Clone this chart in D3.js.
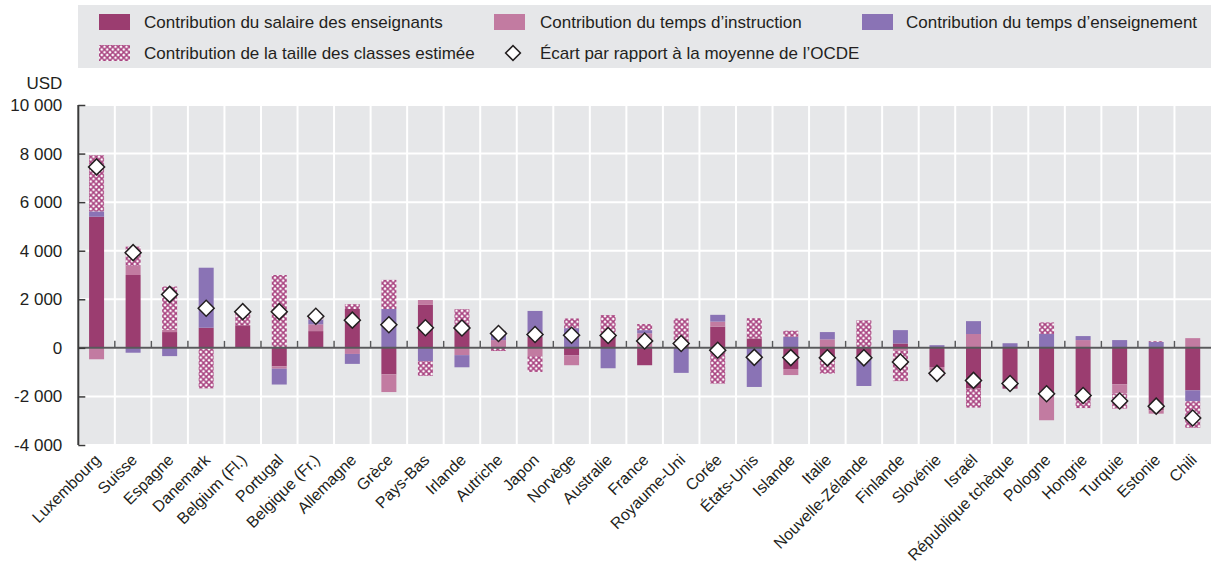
<!DOCTYPE html>
<html>
<head>
<meta charset="utf-8">
<script src="https://cdn.jsdelivr.net/npm/d3@7/dist/d3.min.js"></script>
<style>
  html, body { margin: 0; padding: 0; background: #fff; }
  svg { display: block; }
  text { font-family: "Liberation Sans", Arial, sans-serif; fill: #231f20; }
</style>
</head>
<body>
<svg id="chart" width="1211" height="570"></svg>
<script>
// ---------------- DATA ----------------
const countries = ["Luxembourg","Suisse","Espagne","Danemark","Belgium (Fl.)","Portugal","Belgique (Fr.)","Allemagne","Grèce","Pays-Bas","Irlande","Autriche","Japon","Norvège","Australie","France","Royaume-Uni","Corée","États-Unis","Islande","Italie","Nouvelle-Zélande","Finlande","Slovénie","Israël","République tchèque","Pologne","Hongrie","Turquie","Estonie","Chili"];
const salaire      = [5400, 3000, 650, 830, 930, -760, 690, 1600, -1090, 1770, 940, 0, 460, -300, 525, -715, 0, 870, 390, -870, -510, -370, 180, -790, -1680, -1680, -1950, -2160, -1500, -2570, -1750];
const instruction  = [-470, 380, 95, -40, 0, -100, 280, -250, -730, 200, -300, 320, -340, -415, 0, 600, 0, 210, 0, -250, 350, 0, -120, -130, 570, 0, -1030, 320, -380, -140, 400];
const enseignement = [220, -200, -340, 2470, 0, -650, 200, -410, 1600, -550, -500, 380, 1060, 810, -840, 130, -1030, 280, -1610, 455, 300, -1200, 550, 110, 530, 190, 570, 165, 320, 250, -450];
const taille       = [2310, 790, 1780, -1630, 550, 3000, 120, 200, 1200, -600, 650, -130, -650, 400, 825, 250, 1210, -1470, 830, 250, -550, 1130, -1250, -240, -780, 0, 480, -320, -620, 30, -1090];
const ecart        = [7450, 3920, 2200, 1630, 1490, 1490, 1300, 1140, 950, 830, 820, 590, 550, 520, 510, 280, 180, -100, -390, -400, -410, -410, -580, -1050, -1340, -1470, -1890, -1960, -2190, -2400, -2890];
const yTicks = [-4000, -2000, 0, 2000, 4000, 6000, 8000, 10000];
const seriesKeys = ["salaire", "instruction", "enseignement", "taille"];
const seriesLabels = {
  salaire: "Contribution du salaire des enseignants",
  instruction: "Contribution du temps d’instruction",
  enseignement: "Contribution du temps d’enseignement",
  taille: "Contribution de la taille des classes estimée",
  ecart: "Écart par rapport à la moyenne de l’OCDE"
};
const yUnit = "USD";

(function () {
// ---------------- STYLE ----------------
const colors = { salaire: "#9b3d70", instruction: "#c27ba1", enseignement: "#8a73b5" };
const hatchColor = "#a8427f";
const plotBg = "#e6e7e9";
const FS = 17;
const FSX = 16;

const svg = d3.select("#chart");
const pLeft = 78.3, pRight = 1211, pTop = 105, pBottom = 445;

const rows = countries.map((c, i) => ({
  country: c, salaire: salaire[i], instruction: instruction[i],
  enseignement: enseignement[i], taille: taille[i], ecart: ecart[i]
}));

const x = d3.scaleBand().domain(countries).range([pLeft, pRight]).paddingInner(0).paddingOuter(0);
const y = d3.scaleLinear().domain([-4000, 10000]).range([pBottom, pTop]);
const barW = 15;

// pattern
const defs = svg.append("defs");
const pat = defs.append("pattern").attr("id", "hatch").attr("patternUnits", "userSpaceOnUse")
  .attr("width", 5.5).attr("height", 5.5);
pat.append("rect").attr("width", 5.5).attr("height", 5.5).attr("fill", "#fff");
pat.append("path").attr("d", "M-1,-1 L6.5,6.5 M6.5,-1 L-1,6.5").attr("stroke", hatchColor).attr("stroke-width", 1.5);

function fillFor(k) { return k === "taille" ? "url(#hatch)" : colors[k]; }

// ---------------- LEGEND ----------------
const lg = svg.append("g");
lg.append("rect").attr("x", 78).attr("y", 5).attr("width", 1133).attr("height", 63).attr("fill", plotBg);
const legendItems = [
  { key: "salaire", sx: 99, tx: 144, cy: 22 },
  { key: "instruction", sx: 494, tx: 540, cy: 22 },
  { key: "enseignement", sx: 862, tx: 906, cy: 22 },
  { key: "taille", sx: 99, tx: 144, cy: 53 },
  { key: "ecart", sx: 504, tx: 540, cy: 53 }
];
legendItems.forEach(it => {
  if (it.key === "ecart") {
    lg.append("path").attr("d", d3.symbol(d3.symbolSquare, 110)())
      .attr("transform", `translate(${it.sx + 9},${it.cy}) rotate(45)`)
      .attr("fill", "#fff").attr("stroke", "#231f20").attr("stroke-width", 1.5);
  } else {
    lg.append("rect").attr("x", it.sx).attr("y", it.cy - 8).attr("width", 31).attr("height", 16)
      .attr("fill", fillFor(it.key));
  }
  lg.append("text").attr("x", it.tx).attr("y", it.cy).attr("dy", "0.35em")
    .attr("font-size", FS).text(seriesLabels[it.key]);
});

// ---------------- PLOT BG & GRID ----------------
svg.append("rect").attr("x", pLeft).attr("y", pTop).attr("width", pRight - pLeft).attr("height", pBottom - pTop).attr("fill", plotBg);
const grid = svg.append("g");
yTicks.forEach(v => {
  grid.append("line").attr("x1", pLeft).attr("x2", pRight).attr("y1", y(v)).attr("y2", y(v))
    .attr("stroke", "#fff").attr("stroke-width", 2);
});
countries.forEach((c, i) => {
  if (i === 0) return;
  const bx = x(c);
  grid.append("line").attr("x1", bx).attr("x2", bx).attr("y1", pTop).attr("y2", pBottom)
    .attr("stroke", "#fff").attr("stroke-width", 2);
});

// ---------------- BARS ----------------
const stack = d3.stack().keys(seriesKeys).offset(d3.stackOffsetDiverging);
const stacked = stack(rows);
const barsG = svg.append("g");
stacked.forEach(layer => {
  barsG.append("g").selectAll("rect").data(layer).join("rect")
    .attr("x", d => x(d.data.country) + (x.bandwidth() - barW) / 2)
    .attr("width", barW)
    .attr("y", d => y(Math.max(d[0], d[1])))
    .attr("height", d => Math.abs(y(d[0]) - y(d[1])))
    .attr("fill", fillFor(layer.key));
});

// zero line and ticks
svg.append("line").attr("x1", pLeft).attr("x2", pRight).attr("y1", y(0)).attr("y2", y(0))
  .attr("stroke", "#58595b").attr("stroke-width", 2);
countries.forEach((c, i) => {
  if (i === 0) return;
  const bx = x(c);
  svg.append("line").attr("x1", bx).attr("x2", bx).attr("y1", y(0)).attr("y2", y(0) - 7)
    .attr("stroke", "#58595b").attr("stroke-width", 1.5);
});

// ---------------- Y AXIS ----------------
const loc = d3.formatLocale({ decimal: ",", thousands: " ", grouping: [3], currency: ["", ""], minus: "-" });
const fmt = loc.format(",");
const yAxis = d3.axisLeft(y).tickValues(yTicks).tickSize(-7).tickPadding(16).tickFormat(fmt);
const yg = svg.append("g").attr("transform", `translate(${pLeft},0)`).call(yAxis);
yg.select(".domain").attr("stroke", "#3a3a3a").attr("stroke-width", 2).attr("d", `M0,${pTop}V${pBottom}`);
yg.selectAll(".tick line").attr("stroke", "#3a3a3a").attr("stroke-width", 1.5);
yg.selectAll(".tick text").attr("font-size", FS).attr("font-family", null).attr("fill", "#231f20");
svg.append("text").attr("x", pLeft - 16).attr("y", 83).attr("dy", "0.35em").attr("text-anchor", "end")
  .attr("font-size", FS).text(yUnit);

// ---------------- X AXIS ----------------
const xAxis = d3.axisBottom(x).tickSize(0).tickPadding(0);
const xg = svg.append("g").attr("transform", `translate(0,${pBottom})`).call(xAxis);
xg.select(".domain").remove();
xg.selectAll(".tick text")
  .attr("font-size", FSX).attr("font-family", null).attr("fill", "#231f20")
  .attr("text-anchor", "end").attr("x", 0).attr("y", 0).attr("dy", 0)
  .attr("transform", "translate(5,16) rotate(-45)");

// ---------------- DIAMONDS ----------------
svg.append("g").selectAll("path").data(rows).join("path")
  .attr("d", d3.symbol(d3.symbolSquare, 128)())
  .attr("transform", d => `translate(${x(d.country) + x.bandwidth() / 2},${y(d.ecart)}) rotate(45)`)
  .attr("fill", "#fff").attr("stroke", "#231f20").attr("stroke-width", 1.5);
})();
</script>
</body>
</html>
